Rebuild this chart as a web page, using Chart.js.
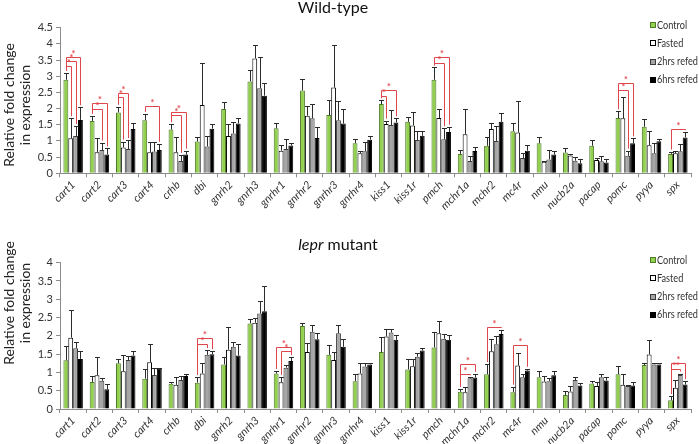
<!DOCTYPE html>
<html>
<head>
<meta charset="utf-8">
<script src="https://cdn.jsdelivr.net/npm/chart.js@4.4.0/dist/chart.umd.min.js"></script>
<style>
body { margin: 0; background: #fff; }
#wrap { position: relative; width: 699px; height: 444px; }
canvas { position: absolute; left: 0; }
</style>
</head>
<body>
<div id="wrap">
  <canvas id="c1" width="699" height="222" style="top:0;width:699px;height:222px"></canvas>
  <canvas id="c2" width="699" height="222" style="top:222px;width:699px;height:222px"></canvas>
</div>
<script>
// genes (x axis)
var genes = ["cart1", "cart2", "cart3", "cart4", "crhb", "dbi", "gnrh2", "gnrh3", "gnrhr1", "gnrhr2",
  "gnrhr3", "gnrhr4", "kiss1", "kiss1r", "pmch", "mchr1a", "mchr2", "mc4r", "nmu", "nucb2a",
  "pacap", "pomc", "pyya", "spx"];
var groups = ["Control", "Fasted", "2hrs refed", "6hrs refed"];

// Wild-type - means
var wtControl = [2.89, 1.62, 1.88, 1.64, 1.35, 0.98, 1.99, 2.84, 1.39, 2.56, 1.80, 0.93, 2.14, 1.59, 2.89, 0.60, 0.85, 1.30, 0.93, 0.64, 0.85, 1.71, 1.44, 0.60];
var wtFasted  = [1.08, 0.65, 0.80, 0.65, 0.65, 2.11, 1.15, 3.55, 0.70, 1.78, 2.65, 0.62, 1.52, 1.48, 1.71, 1.21, 1.37, 1.26, 0.36, 0.55, 0.41, 1.70, 0.87, 0.62];
var wtRefed2  = [1.15, 0.72, 0.75, 0.67, 0.38, 0.83, 1.23, 2.63, 0.75, 1.70, 1.64, 0.68, 1.49, 1.03, 1.05, 0.38, 1.00, 0.47, 0.43, 0.39, 0.37, 0.54, 0.62, 0.68];
var wtRefed6  = [1.65, 0.58, 1.37, 0.72, 0.58, 1.38, 1.54, 2.40, 0.86, 1.09, 1.54, 1.04, 1.57, 1.16, 1.28, 0.69, 1.59, 0.70, 0.58, 0.31, 0.33, 0.93, 0.99, 1.11];
// Wild-type - error (+)
var wtControlErr = [0.22, 0.16, 0.18, 0.20, 0.17, 0.15, 0.21, 0.36, 0.18, 0.36, 0.46, 0.13, 0.12, 0.14, 0.38, 0.12, 0.26, 0.25, 0.20, 0.13, 0.18, 0.21, 0.24, 0.07];
var wtFastedErr  = [0.62, 0.43, 0.18, 0.33, 0.48, 1.31, 0.38, 0.41, 0.16, 0.31, 1.32, 0.08, 0.11, 0.41, 0.28, 0.78, 0.20, 0.98, 0.03, 0.04, 0.06, 0.67, 0.44, 0.08];
var wtRefed2Err  = [0.31, 0.23, 0.28, 0.29, 0.19, 0.32, 0.37, 0.96, 0.30, 0.43, 0.58, 0.30, 0.47, 0.28, 0.34, 0.16, 0.46, 0.15, 0.29, 0.10, 0.15, 0.16, 0.31, 0.23];
var wtRefed6Err  = [0.39, 0.19, 0.18, 0.19, 0.12, 0.14, 0.16, 0.38, 0.09, 0.33, 0.46, 0.10, 0.13, 0.15, 0.16, 0.12, 0.27, 0.17, 0.12, 0.12, 0.12, 0.15, 0.06, 0.16];

// lepr mutant - means
var muControl = [1.33, 0.74, 1.25, 0.83, 0.69, 0.72, 1.22, 2.34, 0.97, 2.27, 1.48, 0.76, 1.56, 1.08, 1.68, 0.47, 0.95, 0.46, 0.87, 0.38, 0.70, 0.95, 1.20, 0.24];
var muFasted  = [1.95, 0.92, 1.03, 1.28, 0.66, 0.97, 1.62, 2.36, 0.73, 1.56, 1.34, 0.97, 1.98, 1.17, 2.07, 0.46, 1.58, 1.19, 0.75, 0.48, 0.63, 0.66, 1.49, 0.58];
var muRefed2  = [1.66, 0.77, 1.34, 0.93, 0.79, 1.48, 1.70, 2.61, 1.13, 2.11, 2.07, 1.16, 2.09, 1.43, 1.92, 0.84, 1.77, 0.87, 0.76, 0.79, 0.87, 0.63, 1.22, 0.93];
var muRefed6  = [1.37, 0.54, 1.46, 1.10, 0.90, 1.50, 1.46, 2.67, 1.31, 1.91, 1.70, 1.22, 1.89, 1.60, 1.89, 0.86, 2.05, 1.05, 0.92, 0.64, 0.78, 0.64, 1.22, 0.67];
// lepr mutant - error (+)
var muControlErr = [0.40, 0.17, 0.13, 0.25, 0.06, 0.16, 0.19, 0.13, 0.07, 0.09, 0.27, 0.19, 0.42, 0.28, 0.43, 0.08, 0.28, 0.15, 0.18, 0.10, 0.07, 0.23, 0.05, 0.12];
var muFastedErr  = [0.75, 0.50, 0.45, 0.50, 0.21, 0.28, 0.62, 0.12, 0.15, 0.25, 0.21, 0.28, 0.21, 0.19, 0.33, 0.15, 0.33, 0.35, 0.15, 0.15, 0.12, 0.29, 0.40, 0.21];
var muRefed2Err  = [0.16, 0.07, 0.12, 0.18, 0.11, 0.13, 0.13, 0.34, 0.06, 0.19, 0.24, 0.09, 0.11, 0.09, 0.12, 0.03, 0.22, 0.10, 0.09, 0.08, 0.09, 0.03, 0.05, 0.04];
var muRefed6Err  = [0.22, 0.14, 0.12, 0.03, 0.07, 0.08, 0.32, 0.69, 0.11, 0.18, 0.21, 0.05, 0.13, 0.08, 0.13, 0.10, 0.11, 0.05, 0.11, 0.07, 0.10, 0.09, 0.05, 0.09];

// significance brackets: [gene index, from group, to group, height, label]
var wtBrackets = [
  [0, 0, 1, 3.33, "*"], [0, 0, 2, 3.47, "*"], [0, 0, 3, 3.60, "*"],
  [1, 0, 2, 1.99, "*"], [1, 0, 3, 2.17, "*"],
  [2, 0, 1, 2.35, "*"], [2, 0, 2, 2.47, "*"],
  [3, 0, 3, 2.08, "*"],
  [4, 0, 2, 1.80, "*"], [4, 0, 3, 1.91, "*"],
  [12, 0, 1, 2.39, "*"], [12, 0, 3, 2.58, "*"],
  [14, 0, 2, 3.40, "*"], [14, 0, 3, 3.58, "*"],
  [21, 0, 2, 2.56, "*"], [21, 0, 3, 2.80, "*"],
  [23, 0, 3, 1.36, "*"]
];
var muBrackets = [
  [5, 0, 2, 1.78, "*"], [5, 0, 3, 1.93, "*"],
  [8, 1, 3, 1.58, "*"], [8, 0, 3, 1.70, "*"],
  [15, 0, 2, 0.97, "*"], [15, 0, 3, 1.23, "*"],
  [16, 0, 3, 2.25, "*"],
  [17, 0, 3, 1.75, "*"],
  [23, 0, 2, 1.09, "**"], [23, 0, 3, 1.27, "*"]
];

var fillCols = ["#92d050", "#ffffff", "#a6a6a6", "#000000"];
var lineCols = ["#4e7a26", "#000000", "#3a3a3a", "#000000"];
var fontFam = "Lato, 'Open Sans', sans-serif";
var red = "#e0474c";

// dessine barres d'erreur, crochets, titres, légende
var extras = {
  id: "extras",
  afterDatasetsDraw: function(chart, args, opts) {
    var ctx = chart.ctx;
    var ys = chart.scales.y;
    var ds = chart.data.datasets;
    ctx.save();
    ctx.lineWidth = 1;
    ctx.strokeStyle = "#2b2b2b";
    for (var i = 0; i < ds.length; i++) {
      var meta = chart.getDatasetMeta(i);
      for (var j = 0; j < meta.data.length; j++) {
        var bar = meta.data[j];
        var x = Math.round(bar.x) + 0.5;
        var y1 = Math.round(ys.getPixelForValue(ds[i].data[j] + opts.errors[i][j])) + 0.5;
        ctx.beginPath();
        ctx.moveTo(x, bar.y);
        ctx.lineTo(x, y1);
        ctx.moveTo(x - 2.5, y1);
        ctx.lineTo(x + 2.5, y1);
        ctx.stroke();
      }
    }
    // brackets
    ctx.strokeStyle = red;
    ctx.fillStyle = red;
    ctx.font = "bold 9px " + fontFam;
    ctx.textAlign = "center";
    ctx.textBaseline = "alphabetic";
    opts.brackets.forEach(function(b) {
      var g = b[0], s0 = b[1], s1 = b[2];
      var bar0 = chart.getDatasetMeta(s0).data[g];
      var bar1 = chart.getDatasetMeta(s1).data[g];
      var x0 = Math.round(bar0.x) + 0.5, x1 = Math.round(bar1.x) + 0.5;
      var t0 = ys.getPixelForValue(ds[s0].data[g] + opts.errors[s0][g]) - 2;
      var t1 = ys.getPixelForValue(ds[s1].data[g] + opts.errors[s1][g]) - 2;
      var yl = Math.round(ys.getPixelForValue(b[3])) + 0.5;
      ctx.beginPath();
      ctx.moveTo(x0, t0);
      ctx.lineTo(x0, yl);
      ctx.lineTo(x1, yl);
      ctx.lineTo(x1, t1);
      ctx.stroke();
      ctx.fillText(b[4], (x0 + x1) / 2, yl - 1);
    });
    ctx.restore();
  },
  afterDraw: function(chart, args, opts) {
    var ctx = chart.ctx;
    ctx.save();
    // titre
    ctx.fillStyle = "#111";
    ctx.textBaseline = "middle";
    var parts = opts.title;
    var total = 0;
    parts.forEach(function(p) {
      ctx.font = (p[1] ? "italic " : "") + "16px " + fontFam;
      total += ctx.measureText(p[0]).width;
    });
    var tx = opts.titleX - total / 2;
    ctx.textAlign = "left";
    parts.forEach(function(p) {
      ctx.font = (p[1] ? "italic " : "") + "16px " + fontFam;
      ctx.fillText(p[0], tx, opts.titleY);
      tx += ctx.measureText(p[0]).width;
    });
    // axis title
    ctx.font = "14px " + fontFam;
    ctx.fillStyle = "#222";
    ctx.textAlign = "center";
    ctx.translate(9, opts.axisY);
    ctx.rotate(-Math.PI / 2);
    ctx.fillText("Relative fold change", 0, 0);
    ctx.fillText("in expression", 0, 16);
    ctx.restore();
    // legend (texte un peu compressé pour tenir dans la largeur)
    ctx.save();
    ctx.font = "11px " + fontFam;
    ctx.textBaseline = "middle";
    ctx.textAlign = "left";
    var sx = Math.min(1, 41 / ctx.measureText("6hrs refed").width);
    for (var k = 0; k < groups.length; k++) {
      var ly = opts.legendY + k * 18.3;
      ctx.fillStyle = fillCols[k];
      ctx.fillRect(650, Math.round(ly - 3), 6, 6);
      ctx.strokeStyle = lineCols[k];
      ctx.lineWidth = 1;
      ctx.strokeRect(650.5, Math.round(ly - 3) + 0.5, 5, 5);
      ctx.fillStyle = "#333";
      ctx.save();
      ctx.translate(657, ly);
      ctx.scale(sx, 1);
      ctx.fillText(groups[k], 0, 0);
      ctx.restore();
    }
    ctx.restore();
  }
};

function makeDatasets(series) {
  return series.map(function(s, i) {
    return {
      label: groups[i],
      data: s,
      backgroundColor: fillCols[i],
      borderColor: lineCols[i],
      borderWidth: 1,
      categoryPercentage: 0.74,
      barPercentage: 1.0
    };
  });
}

function makeChart(canvasId, series, errors, brackets, ymax, padTop, xHeight, extraOpts) {
  extraOpts.errors = errors;
  extraOpts.brackets = brackets;
  return new Chart(document.getElementById(canvasId), {
    type: "bar",
    data: { labels: genes, datasets: makeDatasets(series) },
    options: {
      responsive: false,
      animation: false,
      layout: { padding: { top: padTop, left: 0, right: 8, bottom: 0 } },
      plugins: {
        legend: { display: false },
        tooltip: { enabled: false },
        extras: extraOpts
      },
      scales: {
        x: {
          afterFit: function(scale) { scale.height = xHeight; },
          border: { color: "#8c8c8c" },
          grid: { offset: true, drawOnChartArea: false, drawTicks: true, tickLength: 4, color: "#8c8c8c" },
          ticks: {
            autoSkip: false, minRotation: 45, maxRotation: 45, padding: 1,
            color: "#333", font: { family: fontFam, size: 11, style: "italic" }
          }
        },
        y: {
          min: 0, max: ymax,
          afterFit: function(scale) { scale.width = 60; },
          border: { color: "#8c8c8c" },
          grid: { drawOnChartArea: false, drawTicks: true, tickLength: 4, color: "#8c8c8c" },
          ticks: {
            stepSize: 0.5, autoSkip: false, padding: 3, color: "#333",
            font: { family: fontFam, size: 11 },
            callback: function(v) { return String(Math.round(v * 10) / 10); }
          }
        }
      }
    },
    plugins: [extras]
  });
}

var chartWT = makeChart("c1",
  [wtControl, wtFasted, wtRefed2, wtRefed6],
  [wtControlErr, wtFastedErr, wtRefed2Err, wtRefed6Err],
  wtBrackets, 4.5, 27.7, 48.7,
  { title: [["Wild-type", false]], titleX: 333, titleY: 8, axisY: 105, legendY: 25 });

var chartMU = makeChart("c2",
  [muControl, muFasted, muRefed2, muRefed6],
  [muControlErr, muFastedErr, muRefed2Err, muRefed6Err],
  muBrackets, 4, 40.7, 35,
  { title: [["lepr", true], [" mutant", false]], titleX: 338, titleY: 23, axisY: 81, legendY: 38 });
</script>
</body>
</html>
